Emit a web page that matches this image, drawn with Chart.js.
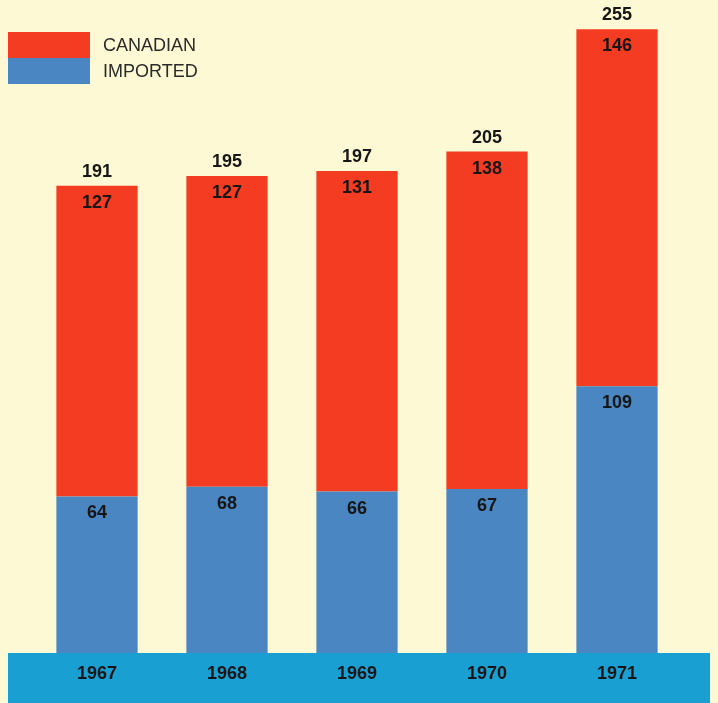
<!DOCTYPE html>
<html>
<head>
<meta charset="utf-8">
<script src="https://cdn.jsdelivr.net/npm/chart.js@4/dist/chart.umd.min.js"></script>
<style>
  html, body { margin: 0; padding: 0; background: #fdf9d4; }
  #wrap { position: relative; width: 718px; height: 703px; }
  #legend { position: absolute; left: 8px; top: 32px; font-family: "Liberation Sans", Arial, sans-serif; font-size: 18px; color: #2a2a2a; }
  .row { height: 26px; display: flex; align-items: center; }
  .sw { width: 82px; height: 26px; margin-right: 13px; }
</style>
</head>
<body>
<div id="wrap">
  <canvas id="c" width="718" height="703"></canvas>
  <div id="legend">
    <div class="row"><div class="sw" style="background:#f43c22"></div>CANADIAN</div>
    <div class="row"><div class="sw" style="background:#4a86c1"></div>IMPORTED</div>
  </div>
</div>
<script>
var anios = ['1967', '1968', '1969', '1970', '1971'];
var importado = [64, 68, 66, 67, 109];
var canadiense = [127, 127, 131, 138, 146];
var totales = [191, 195, 197, 205, 255];

var colores = { rojo: '#f43c22', azul: '#4a86c1', franja: '#1a9fd3', texto: '#161616' };

// franja azul bajo las barras
var franja = {
  id: 'franja',
  beforeDraw: function (chart) {
    var ctx = chart.ctx, a = chart.chartArea;
    ctx.save();
    ctx.fillStyle = colores.franja;
    ctx.fillRect(8, a.bottom, 702, chart.height - a.bottom);
    ctx.restore();
  }
};

// cifras dentro y encima de cada barra
var etiquetas = {
  id: 'etiquetas',
  afterDatasetsDraw: function (chart) {
    var ctx = chart.ctx;
    ctx.save();
    ctx.font = 'bold 18px "Liberation Sans", Arial, sans-serif';
    ctx.fillStyle = colores.texto;
    ctx.textAlign = 'center';
    ctx.textBaseline = 'middle';
    chart.data.datasets.forEach(function (ds, i) {
      chart.getDatasetMeta(i).data.forEach(function (bar, j) {
        ctx.fillText(String(ds.data[j]), bar.x, bar.y + 17);
        if (i === 1) ctx.fillText(String(totales[j]), bar.x, bar.y - 14);
      });
    });
    ctx.restore();
  }
};

new Chart(document.getElementById('c'), {
  type: 'bar',
  data: {
    labels: anios,
    datasets: [
      { label: 'IMPORTED', data: importado, backgroundColor: colores.azul },
      { label: 'CANADIAN', data: canadiense, backgroundColor: colores.rojo }
    ]
  },
  options: {
    responsive: false,
    animation: false,
    layout: { padding: { left: 32, right: 36, top: 17, bottom: 0 } },
    datasets: { bar: { categoryPercentage: 1, barPercentage: 0.625, borderWidth: 0 } },
    plugins: { legend: { display: false }, tooltip: { enabled: false } },
    scales: {
      x: {
        stacked: true,
        grid: { display: false },
        border: { display: false },
        ticks: { color: colores.texto, padding: 2, font: { family: '"Liberation Sans", Arial, sans-serif', size: 18, weight: 'bold' } },
        afterFit: function (axis) { axis.height = 50; }
      },
      y: { stacked: true, display: false, min: 0, max: 260 }
    }
  },
  plugins: [franja, etiquetas]
});
</script>
</body>
</html>
